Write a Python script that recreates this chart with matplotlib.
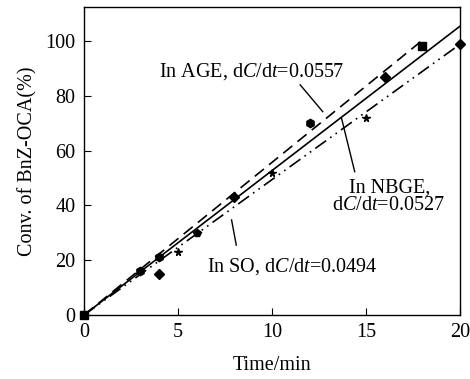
import matplotlib
matplotlib.use('Agg')
import matplotlib.pyplot as plt
import numpy as np

plt.rcParams['font.family'] = ['Liberation Serif', 'DejaVu Serif']
plt.rcParams['mathtext.fontset'] = 'custom'
plt.rcParams['mathtext.rm'] = 'Liberation Serif'
plt.rcParams['mathtext.it'] = 'Liberation Serif:italic'

age_t = [0, 3, 4, 6, 12, 18]
age_c = [0, 16, 21, 30, 70, 98]
nbge_t = [4, 8, 16, 20]
nbge_c = [15, 43, 87, 99]
so_t = [5, 10, 15]
so_c = [23, 52, 72]

# fitted slopes (fraction per min) and fit ranges
age_k, age_end = 0.0557, 18
nbge_k, nbge_end = 0.0527, 20
so_k, so_end = 0.0494, 20

fs = 14.5

fig = plt.figure(figsize=(4.70, 3.79), dpi=100)
ax = fig.add_axes([0.1787, 0.1689, 0.80, 0.8126])

t = np.array([0, age_end])
ax.plot(t, t * age_k * 100, color='black', lw=1.2, ls=(0, (7, 4)))
t = np.array([0, nbge_end])
ax.plot(t, t * nbge_k * 100, color='black', lw=1.2, ls='-')
t = np.array([0, so_end])
ax.plot(t, t * so_k * 100, color='black', lw=1.2, ls=(0, (8, 3, 1, 3, 1, 3)))

age_markers = ['s', 'h', 'h', 'p', 'h', 's']
for x, y, m in zip(age_t, age_c, age_markers):
    ax.plot(x, y, marker=m, color='black', ms=6, clip_on=False)
ax.plot(nbge_t, nbge_c, 'D', color='black', ms=5, ls='none', clip_on=False)
ax.plot(so_t, so_c, '*', color='black', ms=5.5, ls='none')

ax.set_xlim(0, 20)
ax.set_ylim(0, 112.4)
ax.set_xticks([0, 5, 10, 15, 20])
ax.set_yticks([0, 20, 40, 60, 80, 100])
ax.tick_params(direction='in', length=5, labelsize=fs, top=False, right=False, pad=6)
for s in ax.spines.values():
    s.set_linewidth(1.0)

ax.set_xlabel('Time/min', fontsize=fs, labelpad=10)
ax.set_ylabel('Conv. of BnZ-OCA(%)', fontsize=fs, labelpad=6)

ax.text(8.9, 88.7, r'In AGE, d$\it{C}$/d$\it{t}$=0.0557', fontsize=fs, ha='center', va='center')
ax.plot([11.5, 12.7], [84.0, 74.2], color='black', lw=1)

ax.text(16.25, 46.4, 'In NBGE,', fontsize=fs, ha='center', va='center')
ax.text(16.2, 40.1, r'd$\it{C}$/d$\it{t}$=0.0527', fontsize=fs, ha='center', va='center')
ax.plot([13.7, 14.4], [71.8, 52.3], color='black', lw=1)

ax.text(11.1, 17.5, r'In SO, d$\it{C}$/d$\it{t}$=0.0494', fontsize=fs, ha='center', va='center')
ax.plot([7.85, 8.1], [34.7, 25.5], color='black', lw=1)

plt.savefig('out.png', dpi=100)
plt.close()
